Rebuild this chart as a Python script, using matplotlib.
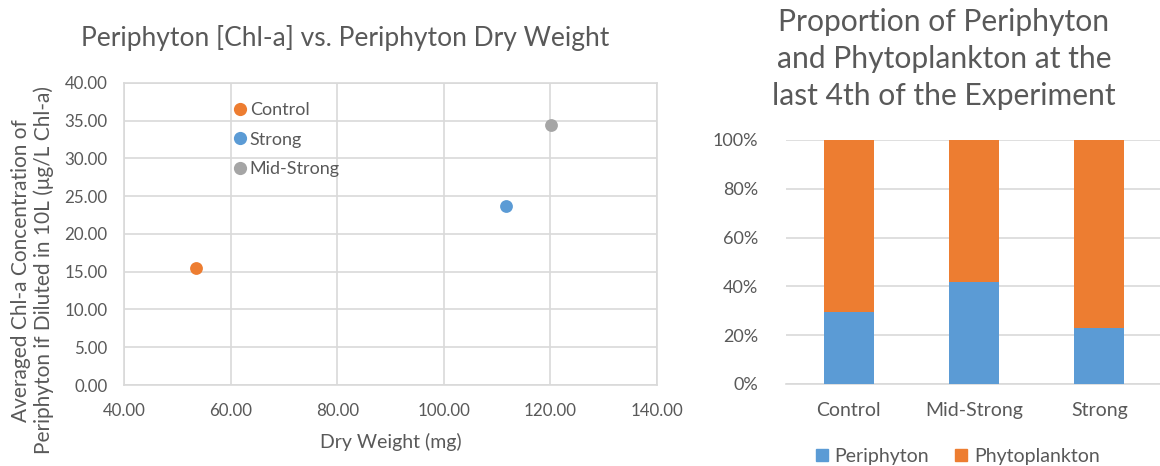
import matplotlib
matplotlib.use("Agg")
import matplotlib.pyplot as plt
from matplotlib.ticker import FuncFormatter, MultipleLocator
from matplotlib.lines import Line2D
from matplotlib.patches import Patch

plt.rcParams['font.family'] = ['Lato', 'DejaVu Sans']

# Scatter data: periphyton dry weight vs. averaged Chl-a
treatments = ["Control", "Strong", "Mid-Strong"]
dry_weight_mg = [53.5, 111.6, 120.2]
chla_ug_per_l = [15.5, 23.7, 34.4]

# Stacked proportions at the last 4th of the experiment
bar_categories = ["Control", "Mid-Strong", "Strong"]
periphyton_pct = [29.6, 41.7, 22.8]
phytoplankton_pct = [100 - v for v in periphyton_pct]

ORANGE = "#ED7D31"
BLUE = "#5B9BD5"
GRAY = "#A5A5A5"
TEXT = "#595959"
GRID = "#D9D9D9"
point_colors = {"Control": ORANGE, "Strong": BLUE, "Mid-Strong": GRAY}

fig = plt.figure(figsize=(11.6, 4.66), dpi=100)

# ---- left: scatter ----
ax1 = fig.add_axes([0.1069, 0.1738, 0.4595, 0.6487])
for name, x, y in zip(treatments, dry_weight_mg, chla_ug_per_l):
    ax1.scatter([x], [y], s=85, color=point_colors[name], zorder=3, linewidths=0)
ax1.set_xlim(40, 140)
ax1.set_ylim(0, 40)
ax1.xaxis.set_major_locator(MultipleLocator(20))
ax1.yaxis.set_major_locator(MultipleLocator(5))
fmt2 = FuncFormatter(lambda v, p: f"{v:.2f}")
ax1.xaxis.set_major_formatter(fmt2)
ax1.yaxis.set_major_formatter(fmt2)
ax1.grid(True, color=GRID, linewidth=1.2)
ax1.set_axisbelow(True)
for s in ax1.spines.values():
    s.set_color(GRID)
    s.set_linewidth(1.2)
ax1.tick_params(length=0, labelsize=12.2, colors=TEXT)
ax1.tick_params(axis='x', pad=13)
ax1.tick_params(axis='y', pad=12)
fig.text(345 / 1160, 1 - 38 / 466, "Periphyton [Chl-a] vs. Periphyton Dry Weight",
         fontsize=19, color=TEXT, ha='center', va='center')
ax1.set_xlabel("Dry Weight (mg)", fontsize=14, color=TEXT, labelpad=10)
ax1.set_ylabel("Averaged Chl-a Concentration of\nPeriphyton if Diluted in 10L (μg/L Chl-a)",
               fontsize=15, color=TEXT, linespacing=1.1)
ax1.yaxis.set_label_coords(-0.132, 0.38)
handles = [Line2D([], [], marker='o', linestyle='none', markersize=9.5,
                  markerfacecolor=point_colors[n], markeredgewidth=0, label=n)
           for n in treatments]
ax1.legend(handles=handles, loc='upper left', bbox_to_anchor=(0.187, 0.96),
           frameon=False, fontsize=13, labelcolor=TEXT, handletextpad=0.05,
           handlelength=1.0, borderaxespad=0, labelspacing=0.75)

# ---- right: 100% stacked bars ----
ax2 = fig.add_axes([0.6776, 0.176, 0.3241, 0.5236])
xpos = range(len(bar_categories))
ax2.bar(xpos, periphyton_pct, width=0.4, color=BLUE, zorder=3, label="Periphyton")
ax2.bar(xpos, phytoplankton_pct, width=0.4, bottom=periphyton_pct, color=ORANGE,
        zorder=3, label="Phytoplankton")
ax2.set_xlim(-0.5, 2.5)
ax2.set_ylim(0, 100)
ax2.yaxis.set_major_locator(MultipleLocator(20))
ax2.yaxis.set_major_formatter(FuncFormatter(lambda v, p: f"{int(v)}%"))
ax2.set_xticks(list(xpos))
ax2.set_xticklabels(bar_categories)
ax2.grid(True, axis='y', color=GRID, linewidth=1.2)
ax2.set_axisbelow(True)
for k in ("left", "right", "top"):
    ax2.spines[k].set_visible(False)
ax2.spines["bottom"].set_color(GRID)
ax2.spines["bottom"].set_linewidth(1.2)
ax2.tick_params(axis='y', length=0, labelsize=13, colors=TEXT, pad=20)
ax2.tick_params(axis='x', length=0, labelsize=14, colors=TEXT, pad=13)
fig.text(944 / 1160, 1 - 59 / 466,
         "Proportion of Periphyton\nand Phytoplankton at the\nlast 4th of the Experiment",
         fontsize=21.6, color=TEXT, ha='center', va='center', linespacing=1.37)
ax2.legend(handles=[Patch(color=BLUE, label="Periphyton"),
                    Patch(color=ORANGE, label="Phytoplankton")],
           loc='upper center', bbox_to_anchor=(0.457, -0.19), ncol=2, frameon=False,
           fontsize=14, labelcolor=TEXT, handlelength=0.6, handleheight=0.6,
           handletextpad=0.35, columnspacing=1.35)

fig.savefig("out.png", dpi=100)
